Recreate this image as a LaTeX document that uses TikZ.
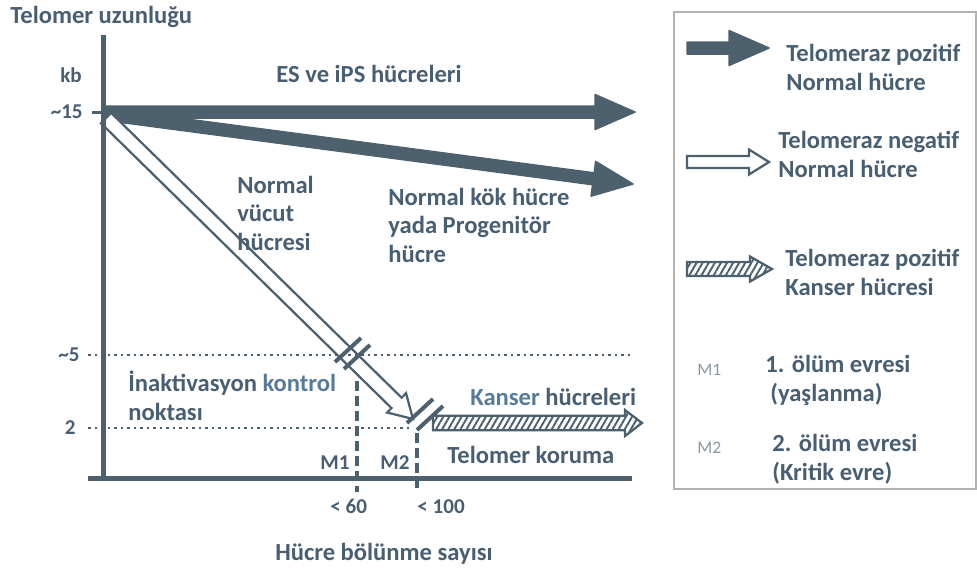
\documentclass[tikz,border=0pt]{standalone}
\usepackage{fontspec}
\setmainfont{Carlito}
\usepackage{xcolor}
\usetikzlibrary{calc,patterns.meta}

\definecolor{slate}{RGB}{76,96,110}
\definecolor{slatetext}{RGB}{72,94,114}
\definecolor{blueish}{RGB}{88,122,154}

\tikzset{
	lbl/.style={font=\bfseries\fontsize{14}{16}\selectfont,text=slatetext,inner sep=0pt,align=left,anchor=base west},
	ticklbl/.style={font=\bfseries\fontsize{12}{14}\selectfont,text=slatetext,inner sep=0pt,anchor=base west},
	keytag/.style={font=\fontsize{10}{12}\selectfont,text=slate!65,inner sep=0pt,anchor=base west},
	darkarrow/.style={draw=slate,fill=slate,line width=0.3mm,line join=round},
	openarrow/.style={draw=slate,fill=white,line width=0.45mm},
	hatcharrow/.style={draw=slate,line width=0.45mm,pattern={Lines[angle=60,distance=3pt,line width=1.1pt]},pattern color=slate},
	guide/.style={slate,line width=0.55mm,dash pattern=on 0.5mm off 0.8mm},
	stage/.style={slate,line width=0.65mm,dash pattern=on 2mm off 1mm},
	breakmark/.style={slate,line width=0.8mm},
}

% block arrow: style, from, to, half shaft, half head, head length
\newcommand{\cellarrow}[6]{%
	\path[#1] let \p1=($(#3)-(#2)$), \n1={atan2(\y1,\x1)} in
		($(#2)+(\n1+90:#4)$) -- ($(#3)+(\n1+180:#6)+(\n1+90:#4)$) -- ($(#3)+(\n1+180:#6)+(\n1+90:#5)$) -- (#3)
		-- ($(#3)+(\n1+180:#6)+(\n1-90:#5)$) -- ($(#3)+(\n1+180:#6)+(\n1-90:#4)$) -- ($(#2)+(\n1-90:#4)$) -- cycle;}

\begin{document}
\begin{tikzpicture}[x=0.2mm,y=-0.2mm]
	\useasboundingbox (0,0) rectangle (977,573);

	\coordinate (o) at (103,112);
	\coordinate (esend) at (635,112);
	\coordinate (kokstart) at (103,114);
	\coordinate (kokend) at (633,184);
	\coordinate (somstart) at (106,118);
	\coordinate (somend) at (413,419);
	\coordinate (kanstart) at (433,423);
	\coordinate (kanend) at (642,423);

	\cellarrow{darkarrow}{o}{esend}{1.2mm}{3.5mm}{8mm}
	\cellarrow{darkarrow}{kokstart}{kokend}{1.2mm}{3.5mm}{8mm}
	\cellarrow{openarrow}{somstart}{somend}{1.45mm}{2.7mm}{4.6mm}
	\cellarrow{hatcharrow}{kanstart}{kanend}{1.45mm}{2.6mm}{3.4mm}

	\coordinate (ytop) at (103,35);
	\coordinate (ybot) at (103,479);
	\coordinate (xleft) at (88,478);
	\coordinate (xright) at (632,478);
	\coordinate (t15) at (92,112);
	\coordinate (d5a) at (88,355);
	\coordinate (d5b) at (632,355);
	\coordinate (d2a) at (88,428);
	\coordinate (d2b) at (412,428);
	\coordinate (m1top) at (357,381);
	\coordinate (m1bot) at (357,492);
	\coordinate (m2top) at (417,433);
	\coordinate (m2bot) at (417,492);

	\draw[guide] (d5a) -- (d5b);
	\draw[guide] (d2a) -- (d2b);
	\draw[stage] (m1top) -- (m1bot);
	\draw[stage] (m2top) -- (m2bot);
	\draw[slate,line width=1mm] (ytop) -- (ybot);
	\draw[slate,line width=1mm] (xleft) -- (xright);
	\draw[slate,line width=0.6mm] (t15) -- (o);

	\coordinate (brk1) at (348,350);
	\coordinate (brk2) at (357,357);
	\coordinate (brk3) at (420,411);
	\coordinate (brk4) at (430,418);
	\foreach \b in {brk1,brk2,brk3,brk4}
		\draw[breakmark] ($(\b)+(-13,12)$) -- ($(\b)+(13,-12)$);

	\node[lbl] (ylabel) at (10,23) {Telomer uzunluğu};
	\node[ticklbl] (kb) at (60,82) {kb};
	\node[ticklbl,anchor=base east] (l15) at (83,118) {\textasciitilde15};
	\node[ticklbl,anchor=base east] (l5) at (80,361) {\textasciitilde5};
	\node[ticklbl,anchor=base east] (l2) at (76,434) {2};
	\node[lbl] (es) at (276,82) {ES ve iPS hücreleri};
	\node[lbl] (somatic) at (237,250) {Normal\\vücut\\hücresi};
	\node[lbl] (stem) at (388,262) {Normal kök hücre\\yada Progenitör\\hücre};
	\node[lbl] (checkpt) at (128,420) {İnaktivasyon \textcolor{blueish}{kontrol}\\noktası};
	\node[lbl] (cancer) at (470,405) {\textcolor{blueish}{Kanser} hücreleri};
	\node[lbl] (protect) at (447,463) {Telomer koruma};
	\node[ticklbl] (m1) at (320,469) {M1};
	\node[ticklbl] (m2) at (380,469) {M2};
	\node[ticklbl] (n60) at (330,513) {< 60};
	\node[ticklbl] (n100) at (417,513) {< 100};
	\node[lbl] (xlabel) at (275,560) {Hücre bölünme sayısı};

	\draw[gray!60,line width=0.35mm] (674,12) rectangle (976,489);
	\coordinate (keyA1) at (687,48);
	\coordinate (keyA2) at (769,48);
	\coordinate (keyB1) at (687,162);
	\coordinate (keyB2) at (769,162);
	\coordinate (keyC1) at (687,269);
	\coordinate (keyC2) at (772,269);
	\cellarrow{darkarrow}{keyA1}{keyA2}{1.2mm}{3.5mm}{8mm}
	\cellarrow{openarrow}{keyB1}{keyB2}{1.2mm}{2.5mm}{4mm}
	\cellarrow{hatcharrow}{keyC1}{keyC2}{1.4mm}{2.5mm}{4.4mm}
	\node[lbl] (keyAtxt) at (786,90) {Telomeraz pozitif\\Normal hücre};
	\node[lbl] (keyBtxt) at (778,177) {Telomeraz negatif\\Normal hücre};
	\node[lbl] (keyCtxt) at (785,295) {Telomeraz pozitif\\Kanser hücresi};
	\node[keytag] (keyM1) at (697,375) {M1};
	\node[lbl] (keyM1txt) at (765,401) {1. ölüm evresi\\\hspace{1mm}(yaşlanma)};
	\node[keytag] (keyM2) at (697,453) {M2};
	\node[lbl] (keyM2txt) at (772,480) {2. ölüm evresi\\(Kritik evre)};
\end{tikzpicture}
\end{document}
